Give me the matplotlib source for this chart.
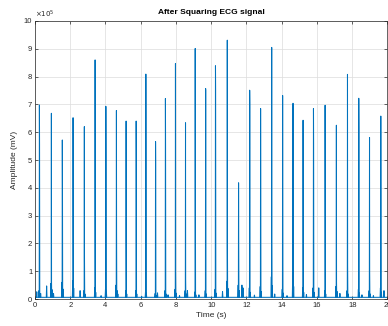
"""Squared ECG signal: R-peak spikes over 20 s (MATLAB-like styling)."""

import matplotlib

matplotlib.use("Agg")
import matplotlib.pyplot as plt
import numpy as np

# R-peak times (s) and squared amplitudes (x1e5)
beat_times = [0.25, 0.93, 1.55, 2.16, 2.80, 3.41, 4.02, 4.62, 5.17, 5.74,
              6.29, 6.84, 7.40, 7.97, 8.54, 9.09, 9.68, 10.24, 10.91, 11.55,
              12.18, 12.80, 13.43, 14.05, 14.64, 15.21, 15.80, 16.46, 17.10,
              17.73, 18.37, 18.98, 19.62]
beat_amps = [6.98, 6.68, 5.72, 6.52, 6.20, 8.60, 6.93, 6.78, 6.40, 6.40,
             8.09, 5.66, 7.21, 8.47, 6.34, 9.01, 7.57, 8.39, 9.31, 4.18,
             7.51, 6.85, 9.05, 7.32, 7.04, 6.43, 6.85, 6.97, 6.25,
             8.08, 7.22, 5.81, 6.58]
# neighbouring sample of each R spike (x1e5)
shoulder_amps = [5.56, 0.60, 4.10, 3.45, 1.45, 4.00, 5.10, 2.40, 2.20, 5.10,
                 5.10, 4.90, 5.50, 1.00, 0.70, 4.90, 7.50, 7.50, 1.95, 2.20,
                 7.00, 4.40, 2.07, 3.87, 0.60, 3.50, 5.56, 4.18, 0.60,
                 1.20, 6.16, 1.00, 3.80]
# small foot bumps at the base of each spike (x1e5)
foot_amps = [0.30, 0.56, 0.60, 0.65, 0.30, 0.40, 0.35, 0.50, 0.30, 0.30,
             0.25, 0.20, 0.30, 0.35, 0.30, 0.25, 0.30, 0.35, 0.64, 0.50,
             0.40, 0.45, 0.80, 0.35, 0.75, 0.40, 0.40, 0.30, 0.45,
             0.30, 0.35, 0.30, 0.40]
# isolated low bumps between beats (T waves / noise)
bump_times = [0.10, 0.32, 0.66, 1.05, 2.56, 3.75, 4.70, 6.05, 6.95, 7.55,
              8.20, 8.65, 9.30, 10.64, 11.74, 11.80, 12.45, 13.60, 14.30,
              15.40, 16.10, 17.30, 18.55, 19.20, 19.80]
bump_amps = [0.26, 0.20, 0.47, 0.20, 0.30, 0.12, 0.18, 0.10, 0.22, 0.15,
             0.12, 0.30, 0.15, 0.27, 0.50, 0.40, 0.14, 0.18, 0.12,
             0.16, 0.40, 0.20, 0.15, 0.12, 0.30]
BASELINE = 0.06  # resting level of the squared signal (x1e5)

MATLAB_BLUE = "#0072BD"
AXIS_COLOR = "#262626"


def build_trace():
    """Turn the listed events into a sampled polyline."""
    events = []
    for t, a, s, f in zip(beat_times, beat_amps, shoulder_amps, foot_amps):
        events += [(t - 0.040, BASELINE), (t - 0.020, f), (t - 0.010, BASELINE),
                   (t, a), (t + 0.008, s), (t + 0.020, BASELINE),
                   (t + 0.035, f * 0.6), (t + 0.050, BASELINE)]
    for t, a in zip(bump_times, bump_amps):
        events += [(t - 0.02, BASELINE), (t, a), (t + 0.02, BASELINE)]
    events.sort()
    x = np.array([0.0] + [e[0] for e in events] + [20.0])
    y = np.array([BASELINE] + [e[1] for e in events] + [BASELINE])
    return x, y


def create_figure():
    plt.rcParams.update({
        "font.family": ["Liberation Sans", "DejaVu Sans"],
        "font.size": 5.5,
        "axes.linewidth": 0.5,
        "xtick.major.width": 0.5,
        "ytick.major.width": 0.5,
        "path.simplify": False,
    })
    fig = plt.figure(figsize=(3.88, 3.26), dpi=100)
    ax = fig.add_axes([0.0902, 0.0828, 0.9085, 0.8528])

    x, y = build_trace()
    ax.plot(x, y, color=MATLAB_BLUE, linewidth=0.75,
            solid_joinstyle="round", solid_capstyle="round")

    ax.set_xlim(0, 20)
    ax.set_ylim(0, 10)
    ax.set_xticks(np.arange(0, 21, 2))
    ax.set_yticks(np.arange(0, 11, 1))
    ax.grid(True, color="#dcdcdc", linewidth=0.5)
    ax.set_axisbelow(True)
    ax.tick_params(direction="in", length=2.5, top=True, right=True,
                   colors=AXIS_COLOR, labelsize=5.5, pad=2)
    for spine in ax.spines.values():
        spine.set_color(AXIS_COLOR)

    ax.set_title("After Squaring ECG signal", fontsize=6, fontweight="bold",
                 color="black", pad=5)
    ax.set_xlabel("Time (s)", fontsize=6, color=AXIS_COLOR, labelpad=2)
    ax.set_ylabel("Amplitude (mV)", fontsize=6, color=AXIS_COLOR, labelpad=4)
    ax.text(0.0, 1.005, r"$\times10^5$", transform=ax.transAxes, fontsize=5,
            color=AXIS_COLOR, ha="left", va="bottom")

    fig.savefig("out.png", dpi=100)
    plt.close(fig)


if __name__ == "__main__":
    create_figure()
